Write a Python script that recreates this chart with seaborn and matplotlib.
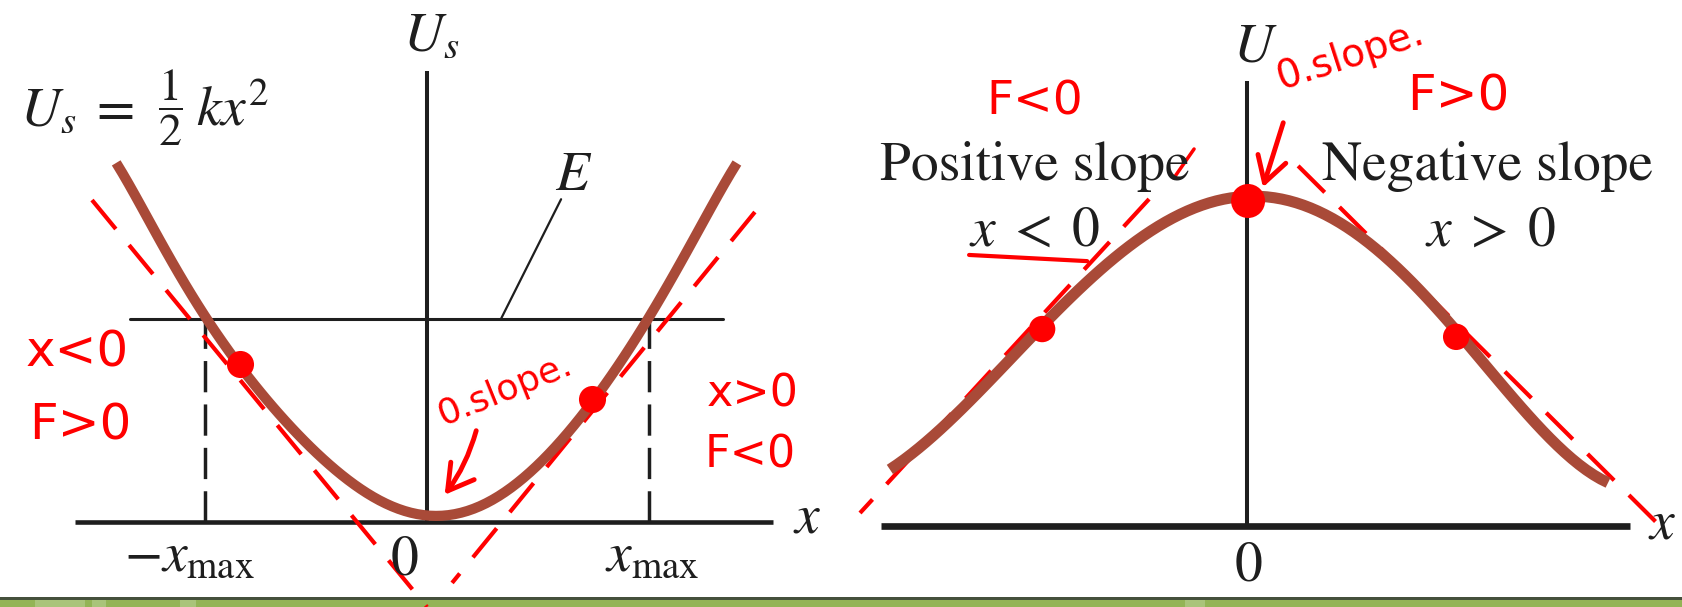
import numpy as np
import pandas as pd
import seaborn as sns
import matplotlib.pyplot as plt
from matplotlib.patches import Rectangle

# ---- data -------------------------------------------------------------
# spring potential U_s (energy units of E, position in units of x_max)
spring_x = [-1.40, -1.234, -1.005, -0.842, -0.680, -0.500, -0.437, -0.315,
            -0.131, 0.0, 0.144, 0.329, 0.464, 0.514, 0.743, 0.995, 1.180, 1.396]
spring_u = [1.768, 1.453, 1.010, 0.778, 0.552, 0.340, 0.275, 0.175,
            0.065, 0.030, 0.055, 0.130, 0.245, 0.281, 0.606, 0.990, 1.355, 1.768]

# potential hill U(x)
hill_x = [-0.992, -0.850, -0.725, -0.569, -0.431, -0.306, -0.147, 0.003,
          0.133, 0.258, 0.397, 0.581, 0.714, 0.853, 1.003]
hill_u = [0.172, 0.308, 0.428, 0.606, 0.772, 0.892, 0.975, 1.000,
          0.988, 0.938, 0.843, 0.582, 0.415, 0.274, 0.129]

E_level = 1.0
x_max = 1.0

spring_dots = [3, 14]        # marked points on the spring curve
hill_dots = [3, 7, 11]       # marked points on the hill curve

# hand-drawn tangent strokes (start, end)
spring_tangents = [[(-1.509, 1.586), (0.0, -0.419)],
                   [(1.477, 1.527), (0.113, -0.300)]]
hill_tangents = [[(-0.272, 1.006), (-1.075, 0.040)],
                 [(0.142, 1.108), (1.150, -0.003)]]

spring_df = pd.DataFrame({"x": spring_x, "U": spring_u})
hill_df = pd.DataFrame({"x": hill_x, "U": hill_u})

# ---- style ------------------------------------------------------------
sns.set_theme(style="white")
plt.rcParams["font.family"] = ["STIXGeneral", "DejaVu Serif"]
plt.rcParams["mathtext.fontset"] = "stix"

CURVE = "#A94A38"
INK = "#1e1e1e"
RED = "#FF0000"
HAND = ["DejaVu Sans"]
FS = 40

W, H = 1683, 607
fig = plt.figure(figsize=(W / 100, H / 100), dpi=100)
fig.patch.set_facecolor("white")

# green footer band
fig.add_artist(Rectangle((0, 0), 1, 10 / H, transform=fig.transFigure,
                         facecolor="#93B456", edgecolor="none", zorder=-5))
fig.add_artist(Rectangle((0, 7 / H), 1, 3 / H, transform=fig.transFigure,
                         facecolor="#45503c", edgecolor="none", zorder=-4))
for x0, w in [(35, 50), (92, 14), (180, 16), (1185, 20)]:
    fig.add_artist(Rectangle((x0 / W, 0), w / W, 7 / H, transform=fig.transFigure,
                             facecolor="#a9c47a", edgecolor="none", zorder=-4))

axL = fig.add_axes([0, 10 / H, 820 / W, 597 / H])
axR = fig.add_axes([820 / W, 10 / H, 863 / W, 597 / H])
for ax in (axL, axR):
    ax.set_axis_off()
    ax.patch.set_alpha(0)

LEFT_LIMS = ((-427 / 222, (820 - 427) / 222), ((522 - 597) / 203, 522 / 203))
RIGHT_LIMS = (((820 - 1247) / 360, (1683 - 1247) / 360),
              ((526 - 597) / 325, 526 / 325))


def smooth_curve(ax, df, order, lw):
    """Smooth polynomial trend through the sampled curve points."""
    sns.regplot(data=df, x="x", y="U", ax=ax, order=order, ci=None,
                scatter=False, truncate=True,
                line_kws=dict(color=CURVE, linewidth=lw,
                              solid_capstyle="butt", zorder=3))
    ax.set_xlabel("")
    ax.set_ylabel("")


# ---- left panel: spring -----------------------------------------------
axL.plot([-1.586, 1.559], [0, 0], color=INK, lw=3.3, solid_capstyle="butt")
axL.plot([0, 0], [0, 2.22], color=INK, lw=2.9, solid_capstyle="butt")
axL.plot([-1.338, 1.333], [E_level, E_level], color=INK, lw=2.2)
for xv in (-x_max, x_max):
    axL.plot([xv, xv], [0, E_level], color=INK, lw=2.5, ls=(0, (9, 3.5)))
axL.plot([0.604, 0.333], [1.59, E_level], color=INK, lw=1.6)

smooth_curve(axL, spring_df, order=8, lw=7.3)
axL.set_xlim(*LEFT_LIMS[0])
axL.set_ylim(*LEFT_LIMS[1])

axL.text(0.02, 2.325, r"$U_s$", fontsize=FS, ha="center", va="baseline", color=INK)
# U_s = (1/2) k x^2, built from three pieces so the fraction keeps its size
axL.text(-1.833, 1.951, r"$U_s\;=$", fontsize=FS, ha="left",
         va="baseline", color=INK)
axL.text(-1.155, 2.04, r"$\dfrac{1}{2}$", fontsize=33, ha="center",
         va="center", color=INK)
axL.text(-1.04, 1.951, r"$kx^2$", fontsize=FS, ha="left",
         va="baseline", color=INK)
axL.text(0.662, 1.635, r"$E$", fontsize=FS, ha="center", va="baseline", color=INK)
axL.text(-1.072, -0.241, r"$-x_{\mathrm{max}}$", fontsize=FS, ha="center",
         va="baseline", color=INK)
axL.text(-0.099, -0.261, "0", fontsize=FS, ha="center", va="baseline", color=INK)
axL.text(1.014, -0.241, r"$x_{\mathrm{max}}$", fontsize=FS, ha="center",
         va="baseline", color=INK)
axL.text(1.712, -0.054, r"$x$", fontsize=FS, ha="center", va="baseline", color=INK)

# annotations
for (x0, y0), (x1, y1) in spring_tangents:
    axL.plot([x0, x1], [y0, y1], color=RED, lw=3.0, ls=(0, (9, 5)),
             clip_on=False)
axL.scatter([spring_x[i] for i in spring_dots], [spring_u[i] for i in spring_dots],
            s=380, color=RED, zorder=5, linewidths=0)
axL.text(-1.577, 0.837, "x<0", fontsize=36, color=RED, family=HAND,
         ha="center", va="center")
axL.text(-1.563, 0.473, "F>0", fontsize=36, color=RED, family=HAND,
         ha="center", va="center")
axL.text(1.468, 0.631, "x>0", fontsize=32, color=RED, family=HAND,
         ha="center", va="center")
axL.text(1.455, 0.330, "F<0", fontsize=32, color=RED, family=HAND,
         ha="center", va="center")
axL.text(0.351, 0.650, "0.slope.", fontsize=26, color=RED, family=HAND,
         ha="center", va="center", rotation=22)
axL.annotate("", xy=(0.072, 0.123), xytext=(0.225, 0.463),
             arrowprops=dict(arrowstyle="->,head_length=0.6,head_width=0.35",
                             color=RED, lw=3.5, mutation_scale=30,
                             connectionstyle="arc3,rad=-0.1"))

# ---- right panel: hill ------------------------------------------------
axR.plot([-1.017, 1.064], [0, 0], color=INK, lw=4.8, solid_capstyle="butt")
axR.plot([0, 0], [0, 1.369], color=INK, lw=2.9, solid_capstyle="butt")

smooth_curve(axR, hill_df, order=6, lw=8.0)
axR.set_xlim(*RIGHT_LIMS[0])
axR.set_ylim(*RIGHT_LIMS[1])

axR.text(0.022, 1.428, r"$U$", fontsize=FS, ha="center", va="baseline", color=INK)
axR.text(-0.589, 1.065, "Positive slope", fontsize=FS, ha="center",
         va="baseline", color=INK)
axR.text(0.669, 1.065, "Negative slope", fontsize=FS, ha="center",
         va="baseline", color=INK)
axR.text(-0.589, 0.862, r"$x\;<\;0$", fontsize=FS, ha="center",
         va="baseline", color=INK)
axR.text(0.675, 0.862, r"$x\;>\;0$", fontsize=FS, ha="center",
         va="baseline", color=INK)
axR.text(0.003, -0.169, "0", fontsize=FS, ha="center", va="baseline", color=INK)
axR.text(1.153, -0.037, r"$x$", fontsize=FS, ha="center", va="baseline", color=INK)

for (x0, y0), (x1, y1) in hill_tangents:
    axR.plot([x0, x1], [y0, y1], color=RED, lw=3.0, ls=(0, (9, 5)),
             clip_on=False)
axR.plot([-0.772, -0.444], [0.834, 0.815], color=RED, lw=3.0)
axR.plot([-0.203, -0.147], [1.071, 1.160], color=RED, lw=2.5)
axR.scatter([hill_x[i] for i in hill_dots], [hill_u[i] for i in hill_dots],
            s=[360, 600, 360], color=RED, zorder=5, linewidths=0)
axR.text(-0.589, 1.305, "F<0", fontsize=34, color=RED, family=HAND,
         ha="center", va="center")
axR.text(0.586, 1.323, "F>0", fontsize=36, color=RED, family=HAND,
         ha="center", va="center")
axR.text(0.286, 1.449, "0.slope.", fontsize=28, color=RED, family=HAND,
         ha="center", va="center", rotation=18)
axR.annotate("", xy=(0.042, 1.034), xytext=(0.103, 1.249),
             arrowprops=dict(arrowstyle="->,head_length=0.6,head_width=0.35",
                             color=RED, lw=3.5, mutation_scale=30))

fig.savefig("out.png", dpi=100)
